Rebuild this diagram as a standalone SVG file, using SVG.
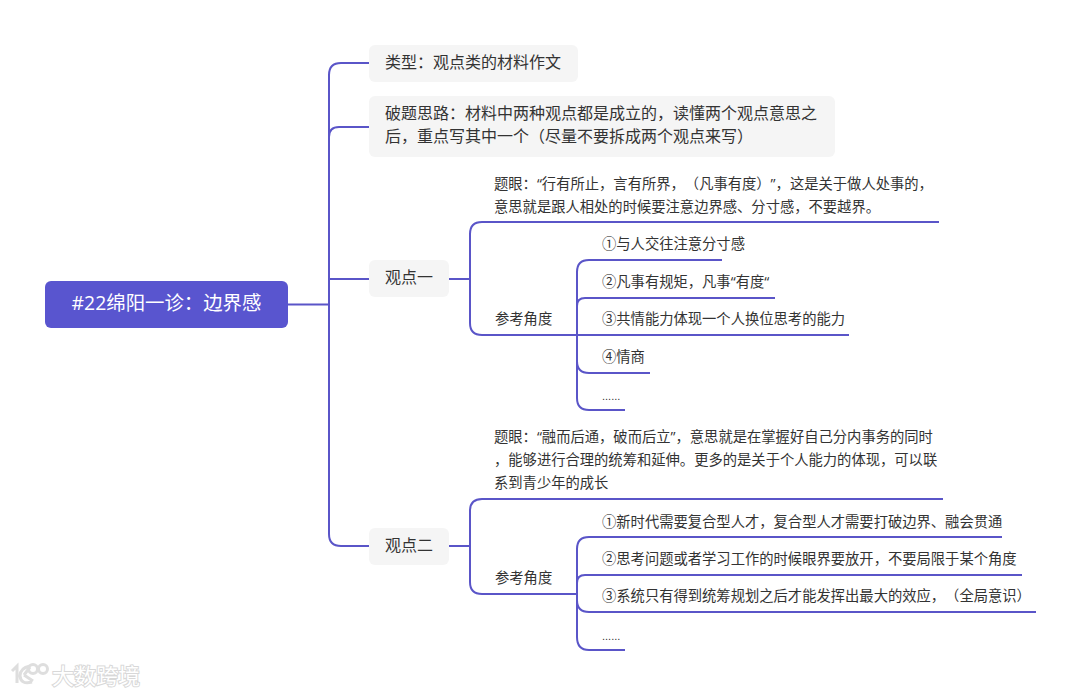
<svg xmlns="http://www.w3.org/2000/svg" width="1080" height="695" viewBox="0 0 1080 695">
<style>
text{font-family:"Open Sans","Noto Sans CJK SC",sans-serif;fill:#333;text-spacing-trim:space-all}
.box{fill:#f5f5f5}
.t15{font-size:16px}
.t13{font-size:14.3px}
.dots{font-size:11px;font-family:"Liberation Sans",sans-serif}
.c{fill:none;stroke:#5a55c8;stroke-width:2}
</style>
<rect width="1080" height="695" fill="#fff"/>
<g id="connectors">
<path class="c" d="M288 304.500H329M369 63H341Q329 63 329 75V534Q329 546 341 546H369M369 127H339Q329 127 329 137M329 279H369"/>
<path class="c" d="M449 279H470M939 222H482Q470 222 470 234V323Q470 335 482 335H577M449 546H470M943 499H482Q470 499 470 511V582Q470 594 482 594H577"/>
<path class="c" d="M722 260H589Q577 260 577 272V398Q577 410 589 410H625M775 298H585Q577 298 577 306M849 335H577M650 373H589Q577 373 577 361"/>
<path class="c" d="M1002 537H589Q577 537 577 549V637Q577 650 589 650H625M1022 575H585Q577 575 577 583M1036 612H589Q577 612 577 600"/>
</g>
<g id="root"><rect x="45" y="281" width="243" height="47" rx="6" fill="#5955cf"/><text x="166.500" y="310" font-size="19.400" text-anchor="middle" style="fill:#fff">#22绵阳一诊：边界感</text></g>
<g id="type"><rect class="box" x="369" y="45" width="209" height="37" rx="6"/><text class="t15" x="385" y="68">类型：观点类的材料作文</text></g>
<g id="approach"><rect class="box" x="369" y="96" width="466" height="61" rx="6"/><text class="t15" x="385" y="119">破题思路：材料中两种观点都是成立的，读懂两个观点意思之</text><text class="t15" x="385" y="142">后，重点写其中一个（尽量不要拆成两个观点来写）</text></g>
<g id="view1"><rect class="box" x="369" y="260" width="80" height="37" rx="6"/><text class="t15" x="385" y="283">观点一</text></g>
<g id="view2"><rect class="box" x="369" y="528" width="80" height="37" rx="6"/><text class="t15" x="385" y="551">观点二</text></g>
<g id="eye1"><text class="t13" x="494" y="189">题眼：“行有所止，言有所界，（凡事有度）”，这是关于做人处事的，</text><text class="t13" x="494" y="212">意思就是跟人相处的时候要注意边界感、分寸感，不要越界。</text></g>
<g id="angle1"><text class="t13" x="495" y="324">参考角度</text></g>
<g id="a1-1"><text class="t13" x="602" y="249">①与人交往注意分寸感</text></g>
<g id="a1-2"><text class="t13" x="602" y="287">②凡事有规矩，凡事“有度“</text></g>
<g id="a1-3"><text class="t13" x="602" y="324">③共情能力体现一个人换位思考的能力</text></g>
<g id="a1-4"><text class="t13" x="602" y="362">④情商</text></g>
<g id="a1-5"><text class="dots" x="602" y="400">......</text></g>
<g id="eye2"><text class="t13" x="494" y="442">题眼：“融而后通，破而后立”，意思就是在掌握好自己分内事务的同时</text><text class="t13" x="494" y="465">，能够进行合理的统筹和延伸。更多的是关于个人能力的体现，可以联</text><text class="t13" x="494" y="488">系到青少年的成长</text></g>
<g id="angle2"><text class="t13" x="495" y="583">参考角度</text></g>
<g id="a2-1"><text class="t13" x="602" y="527">①新时代需要复合型人才，复合型人才需要打破边界、融会贯通</text></g>
<g id="a2-2"><text class="t13" x="602" y="564">②思考问题或者学习工作的时候眼界要放开，不要局限于某个角度</text></g>
<g id="a2-3"><text class="t13" x="602" y="601">③系统只有得到统筹规划之后才能发挥出最大的效应，（全局意识）</text></g>
<g id="a2-4"><text class="dots" x="602" y="640">......</text></g>
<g id="watermark">
<g fill="none" stroke="#dedede" stroke-width="3"><path d="M12 671L17 666V683M30 666Q20 668 20 676Q21 685 32 682M24 675L30 667M24 675L33 681"/><circle cx="33" cy="669" r="4.500"/><circle cx="43" cy="669" r="4.500"/></g>
<text x="52" y="684" font-size="22" style="fill:#fff;stroke:#d8d8d8;stroke-width:2;paint-order:stroke">大数跨境</text>
</g>
</svg>
